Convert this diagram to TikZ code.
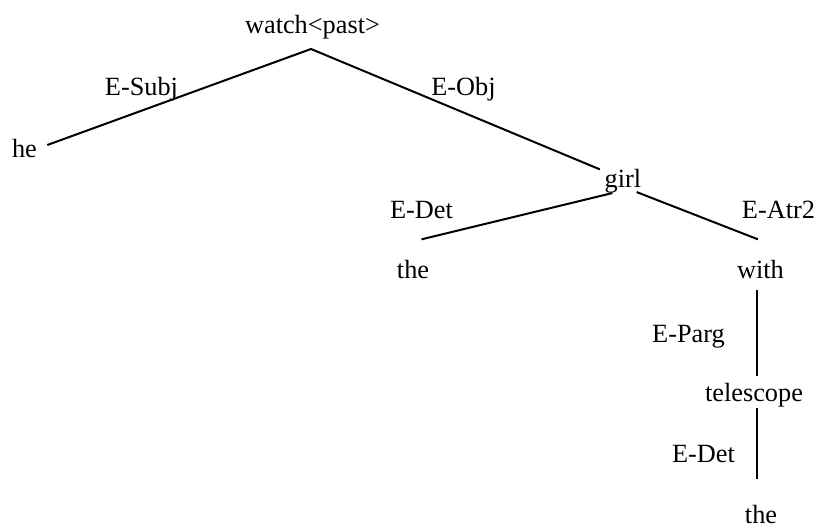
\documentclass[tikz,border=0pt]{standalone}
\usepackage{fontspec}
\setmainfont{Liberation Serif}
\usetikzlibrary{positioning}
\tikzset{%
  % Specifications for style of nodes:
    word/.style={inner sep=1pt, anchor=base, font=\fontsize{13.15}{15}\selectfont},
    rel/.style={word},
    edge/.style={line width=1pt},
}

\begin{document}
\begin{tikzpicture}[x=0.5pt,y=-0.5pt]
    \useasboundingbox (0,0) rectangle (819,530);
    % words of the tree
    \node[word] (watch) at (312.5,33) {watch<past>};
    \node[word] (he) at (24.5,157) {he};
    \node[word] (girl) at (623,187) {girl};
    \node[word] (the) at (413,278) {the};
    \node[word] (with) at (760.5,278) {with};
    \node[word] (telescope) at (754,401) {telescope};
    \node[word] (the2) at (761,523) {the};
    % relation labels
    \node[rel] (subj) at (141.5,95) {E-Subj};
    \node[rel] (obj) at (463.5,95) {E-Obj};
    \node[rel] (det) at (421.5,218) {E-Det};
    \node[rel] (atr) at (778.5,218) {E-Atr2};
    \node[rel] (parg) at (688.5,342) {E-Parg};
    \node[rel] (det2) at (703.5,462) {E-Det};
    % edges
    \draw[edge] ([shift={(8,-3)}]he.east) -- ([shift={(-1.5,8)}]watch.south)
        -- ([shift={(-2.5,3)}]girl.north west);
    \draw[edge] ([shift={(10,-2)}]girl.south west) -- ([shift={(-10,-18)}]the.north east);
    \draw[edge] ([shift={(-7,-3)}]girl.south east) -- ([shift={(-2.5,-18)}]with.north);
    \draw[edge] ([shift={(-3.5,9)}]with.south) -- ([shift={(3,-4)}]telescope.north);
    \draw[edge] ([shift={(3,-1)}]telescope.south) -- ([shift={(-4,-23)}]the2.north);
\end{tikzpicture}
\end{document}
